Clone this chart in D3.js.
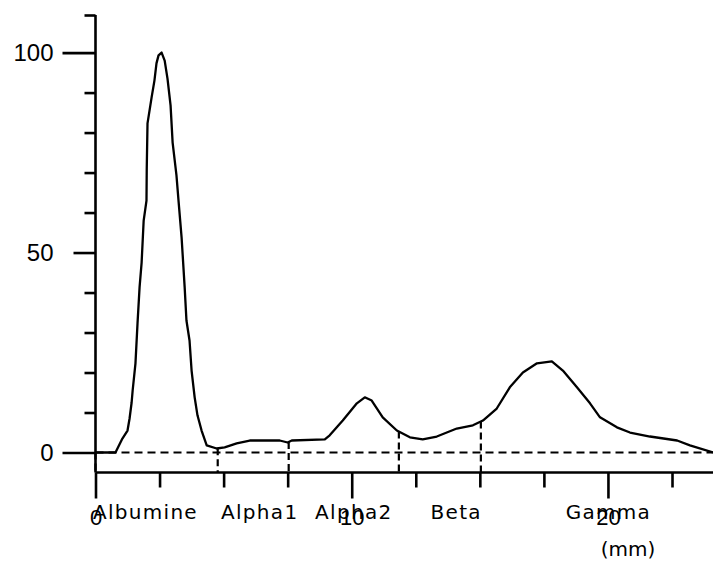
<!DOCTYPE html>
<html>
<head>
<meta charset="utf-8">
<script src="https://cdn.jsdelivr.net/npm/d3@7"></script>
<style>
  html, body { margin: 0; padding: 0; background: #fff; }
  svg { display: block; }
</style>
</head>
<body>
<script>
// Serum protein electrophoresis densitometry profile
const profileMm = [0, 0.78, 1.05, 1.25, 1.33, 1.41, 1.45, 1.56, 1.64, 1.72, 1.80, 1.88, 1.99, 2.0, 2.03,
  2.19, 2.30, 2.38, 2.46, 2.58, 2.70, 2.81, 2.93, 3.01, 3.16, 3.24, 3.36, 3.48, 3.55, 3.67, 3.75,
  3.87, 3.98, 4.14, 4.34, 4.73, 5.04, 5.51, 6.02, 7.19, 7.50, 7.66, 8.95, 9.14, 9.65, 10.2, 10.51,
  10.78, 11.21, 11.76, 12.27, 12.77, 13.32, 14.1, 14.73, 15.12, 15.66, 16.17, 16.68, 17.23, 17.81,
  18.24, 18.79, 19.3, 19.69, 20.35, 20.86, 21.64, 22.7, 23.2, 24.1];
const profileVal = [0, 0, 3.5, 5.5, 8.5, 12.5, 15.5, 22.3, 32.3, 41.3, 47.5, 58, 63, 71, 82.3,
  88.8, 93, 97.3, 99.3, 100, 98, 93.5, 86.8, 77.5, 69.3, 63, 53.8, 41.3, 33, 28, 20.5,
  13.8, 9.3, 5.5, 1.8, 1, 1.3, 2.3, 3, 3, 2.5, 3, 3.3, 4.3, 8, 12.3, 13.8,
  13, 8.8, 5.5, 3.8, 3.3, 4, 6, 6.8, 8, 11, 16.3, 20, 22.3, 22.8,
  20.5, 16.3, 12.3, 8.8, 6.3, 5, 4, 3, 1.8, 0];

// Fractions: names, start boundaries (mm) and label centres (mm)
const fractions = ["Albumine", "Alpha1", "Alpha2", "Beta", "Gamma"];
const fractionStart = [0, 4.77, 7.54, 11.84, 15.04];
const labelAt = [1.95, 6.41, 10.08, 14.08, 20.02];

// Axis ticks
const yLongTicks = [0, 100];
const yMidTicks = [50];
const yShortTicks = [10, 20, 30, 40, 60, 70, 80, 90, 109.4];
const xMajorTicks = [0, 10, 20];
const xMinorTicks = [2.5, 5, 7.5, 12.5, 15, 17.5, 22.5];
const xUnit = "(mm)";

const W = 713, H = 562;
const svg = d3.select("body").append("svg").attr("width", W).attr("height", H);

const x = d3.scaleLinear().domain([0, 24.1]).range([95.5, 713]);
const y = d3.scaleLinear().domain([-5, 109.4]).range([472.5, 15]);

const ink = "#000";
const axisWidth = 2.6;

// Value of the profile at a given position (linear between samples)
function profileAt(mm) {
  const i = d3.bisectRight(profileMm, mm);
  if (i <= 0) return profileVal[0];
  if (i >= profileMm.length) return profileVal[profileVal.length - 1];
  const t = (mm - profileMm[i - 1]) / (profileMm[i] - profileMm[i - 1]);
  return profileVal[i - 1] + t * (profileVal[i] - profileVal[i - 1]);
}

// Y axis: three tick lengths
function yAxis(ticks, size, withLabels) {
  const g = svg.append("g").attr("transform", `translate(${x(0)},0)`)
    .call(d3.axisLeft(y).tickValues(ticks).tickSize(size)
      .tickPadding(size === 33 ? 9 : 20)
      .tickFormat(withLabels ? d3.format("d") : () => ""));
  g.select(".domain").remove();
  g.selectAll("line").attr("stroke", ink).attr("stroke-width", axisWidth);
  g.selectAll("text").attr("fill", ink)
    .style("font-family", "'Liberation Sans', Arial, sans-serif")
    .style("font-size", "24px");
  return g;
}
yAxis(yShortTicks, 11, false);
yAxis(yMidTicks, 22, true);
yAxis(yLongTicks, 33, true);

// Y axis spine
svg.append("line")
  .attr("x1", x(0)).attr("x2", x(0))
  .attr("y1", y(109.4)).attr("y2", y(-5))
  .attr("stroke", ink).attr("stroke-width", axisWidth);

// X axis
function xAxis(ticks, size, withLabels) {
  const g = svg.append("g").attr("transform", `translate(0,${y(-5)})`)
    .call(d3.axisBottom(x).tickValues(ticks).tickSize(size).tickPadding(11)
      .tickFormat(withLabels ? d3.format("d") : () => ""));
  g.select(".domain").remove();
  g.selectAll("line").attr("stroke", ink).attr("stroke-width", axisWidth);
  g.selectAll("text").attr("fill", ink)
    .style("font-family", "'Liberation Sans', Arial, sans-serif")
    .style("font-size", "22px");
  return g;
}
xAxis(xMinorTicks, 15, false);
xAxis(xMajorTicks, 26, true);

svg.append("line")
  .attr("x1", x(0)).attr("x2", x(24.1))
  .attr("y1", y(-5)).attr("y2", y(-5))
  .attr("stroke", ink).attr("stroke-width", axisWidth);

// Dashed zero baseline
svg.append("line")
  .attr("x1", x(0)).attr("x2", x(24.1))
  .attr("y1", y(0)).attr("y2", y(0))
  .attr("stroke", ink).attr("stroke-width", 2.2)
  .attr("stroke-dasharray", "8,5");

// Dashed fraction boundaries, from the profile down to the axis
svg.append("g").selectAll("line")
  .data(fractionStart)
  .join("line")
  .attr("x1", d => x(d)).attr("x2", d => x(d))
  .attr("y1", d => y(profileAt(d))).attr("y2", y(-5))
  .attr("stroke", ink).attr("stroke-width", 2.2)
  .attr("stroke-dasharray", "7,4");

// Profile curve
const line = d3.line()
  .x((d, i) => x(profileMm[i]))
  .y((d, i) => y(profileVal[i]));
svg.append("path")
  .datum(profileVal)
  .attr("d", line)
  .attr("fill", "none")
  .attr("stroke", ink)
  .attr("stroke-width", 2.3)
  .attr("stroke-linejoin", "round");

// Fraction names
svg.append("g").selectAll("text")
  .data(fractions)
  .join("text")
  .attr("x", (d, i) => x(labelAt[i]))
  .attr("y", 519)
  .attr("text-anchor", "middle")
  .attr("fill", ink)
  .style("font-family", "'DejaVu Sans', sans-serif")
  .style("font-size", "20px")
  .style("letter-spacing", "1.3px")
  .text(d => d);

// Unit label
svg.append("text")
  .attr("x", 628).attr("y", 556)
  .attr("text-anchor", "middle")
  .attr("fill", ink)
  .style("font-family", "'DejaVu Sans', sans-serif")
  .style("font-size", "20px")
  .text(xUnit);
</script>
</body>
</html>
